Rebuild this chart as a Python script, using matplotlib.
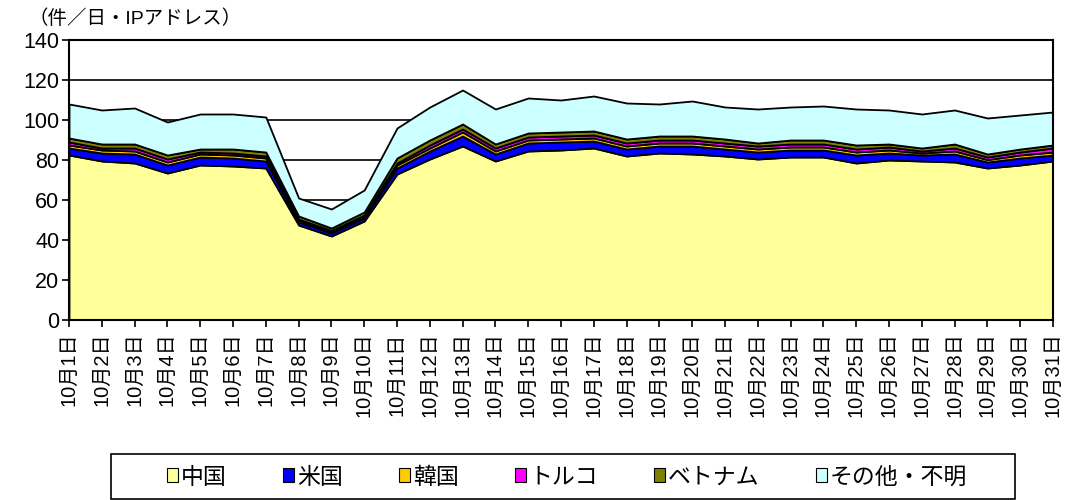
import matplotlib
matplotlib.use('Agg')
import matplotlib.pyplot as plt
from matplotlib.patches import Patch, Rectangle

plt.rcParams['font.family'] = ['Liberation Sans', 'Noto Sans CJK JP', 'DejaVu Sans']

days = [f'10月{d}日' for d in range(1, 32)]

china = [82.5, 79.5, 78.5, 73.5, 77.5, 77, 76, 47.5, 42, 49.5, 73, 80.5, 87, 79.5, 84.5, 85,
         86, 82, 83.5, 83, 82, 80.5, 81.5, 81.5, 78.5, 80, 79.5, 79, 76, 77.5, 79.5]
usa = [3.5, 4, 4.5, 4, 4, 4, 3.5, 1.5, 1.5, 1.5, 3, 4, 5, 3.5, 4, 4,
       3.5, 3.5, 3.5, 4, 3.5, 3.5, 3.5, 3.5, 4, 3.5, 3, 4, 3, 3.5, 3]
korea = [1.5, 1.5, 1.5, 1.5, 1.5, 1.5, 1.5, 1, 0.8, 1, 1.5, 1.5, 2, 1.5, 1.5, 1.5,
         1.5, 1.5, 1.5, 1.5, 1.5, 1.5, 1.5, 1.5, 1.5, 1.5, 1, 1.5, 1.2, 1.5, 1.5]
turkey = [1.5, 1, 1.5, 1.5, 1, 1, 1, 0.5, 0.5, 0.5, 1, 1.5, 1.5, 1.5, 1.5, 1.5,
          1.5, 1.5, 1.5, 1.5, 1.5, 1.5, 1.5, 1.5, 1.5, 1.5, 1, 1.5, 1.3, 1.5, 2]
vietnam = [2, 2, 2, 2, 1.5, 2, 2, 1.5, 1.2, 1.5, 2.5, 2.5, 2.5, 2, 2, 2,
           2, 2, 2, 2, 2, 1.5, 2, 2, 2, 1.5, 1.5, 2, 1.5, 1.5, 1.5]
other = [17, 17, 18, 16.5, 17.5, 17.5, 17.5, 9, 9.5, 11, 15, 16.5, 17, 17.5, 17.5, 16,
         17.5, 18, 16, 17.5, 16, 17, 16.5, 17, 18, 17, 17, 17, 18, 17, 16.5]

labels = ['中国', '米国', '韓国', 'トルコ', 'ベトナム', 'その他・不明']
colors = ['#FFFF99', '#0000FF', '#FFCC00', '#FF00FF', '#808000', '#CCFFFF']

fig = plt.figure(figsize=(10.69, 5.0), dpi=100)
ax = fig.add_axes([69 / 1069, 1 - 320 / 500, (1053 - 69) / 1069, 280 / 500])

x = list(range(len(days)))
ax.stackplot(x, china, usa, korea, turkey, vietnam, other, colors=colors,
             edgecolor='black', linewidth=1.3, zorder=2)

ax.set_xlim(0, len(days) - 1)
ax.set_ylim(0, 140)
ax.set_yticks(range(0, 141, 20))
ax.set_xticks(x)
ax.set_xticklabels(days, rotation=90, fontsize=14.5)
ax.tick_params(axis='y', labelsize=15.5, direction='out', length=5, width=1.2, pad=2)
ax.tick_params(axis='x', direction='out', length=5, width=1.2, pad=4)
ax.grid(axis='y', color='black', linewidth=1.2, zorder=0)
ax.set_axisbelow(True)
for s in ax.spines.values():
    s.set_linewidth(1.5)
    s.set_zorder(3)

fig.text(28 / 1069, 1 - 19 / 500, '（件／日・IPアドレス）', fontsize=14, va='center', ha='left')

# legend box drawn separately, entries placed inside without their own frame
fig.patches.append(Rectangle((111 / 1069, 1 / 500), 904 / 1069, 45 / 500,
                             transform=fig.transFigure, facecolor='white',
                             edgecolor='black', linewidth=1.2, zorder=1))
handles = [Patch(facecolor=c, edgecolor='black', linewidth=0.8) for c in colors]
leg = fig.legend(handles, labels, loc='center', bbox_to_anchor=(567 / 1069, 1 - 477 / 500),
                 ncol=6, fontsize=16.5, frameon=False,
                 handlelength=0.5, handleheight=0.55, handletextpad=0.12,
                 columnspacing=2.45, borderpad=0.0)
leg.set_zorder(2)

fig.savefig('out.png', dpi=100)
